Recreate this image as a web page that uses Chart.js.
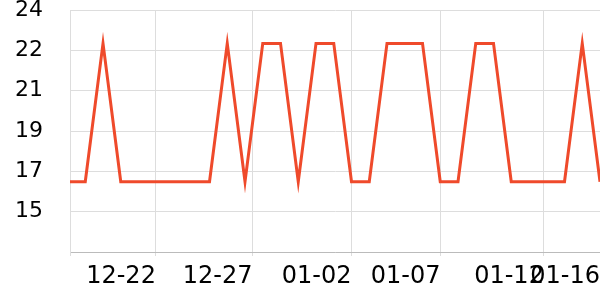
<!DOCTYPE html>
<html>
<head>
<meta charset="utf-8">
<script src="https://cdn.jsdelivr.net/npm/chart.js@4"></script>
<style>
  html, body { margin: 0; padding: 0; background: #fff; }
  #wrap { width: 600px; height: 300px; }
</style>
</head>
<body>
<div id="wrap"><canvas id="chart"></canvas></div>
<script>
// daily values, 12-17 .. 01-16
const days = ['12-17','12-18','12-19','12-20','12-21','12-22','12-23','12-24','12-25','12-26',
              '12-27','12-28','12-29','12-30','12-31','01-01','01-02','01-03','01-04','01-05',
              '01-06','01-07','01-08','01-09','01-10','01-11','01-12','01-13','01-14','01-15','01-16'];
const values = [16.55, 16.55, 22.55, 16.55, 16.55, 16.55, 16.55, 16.55, 16.55, 22.55,
                16.55, 22.55, 22.55, 16.55, 22.55, 22.55, 16.55, 16.55, 22.55, 22.55,
                22.55, 16.55, 16.55, 22.55, 22.55, 16.55, 16.55, 16.55, 16.55, 22.55, 16.55];

// tick positions (in day index) and labels
const xTickPos = [0.14, 4.98, 10.42, 16.0, 21.01, 26.84, 30];
const xTickLabels = ['', '12-22', '12-27', '01-02', '01-07', '01-12', '01-16'];
const yTickValues = [13.5, 15.25, 17, 18.75, 20.5, 22.25, 24];
const yTickLabels = ['', '15', '17', '19', '21', '22', '24'];

const points = values.map((v, i) => ({ x: i, y: v }));

new Chart(document.getElementById('chart'), {
  type: 'line',
  data: {
    datasets: [{
      label: 'value',
      data: points,
      borderColor: '#ef4a2b',
      borderWidth: 3,
      pointRadius: 0,
      tension: 0,
      fill: false
    }]
  },
  options: {
    responsive: true,
    maintainAspectRatio: false,
    animation: false,
    layout: { padding: { top: 10, right: 0, left: 0, bottom: 0 } },
    plugins: {
      legend: { display: false },
      tooltip: { enabled: false }
    },
    scales: {
      x: {
        type: 'linear',
        min: xTickPos[0],
        max: xTickPos[xTickPos.length - 1],
        afterBuildTicks: (scale) => {
          scale.ticks = xTickPos.map(v => ({ value: v }));
        },
        afterFit: (scale) => {
          scale.height = 48;
          scale.paddingLeft = 0;
          scale.paddingRight = 0;
        },
        border: { color: '#bbbbbb', width: 1 },
        grid: {
          color: (ctx) => ctx.index === xTickPos.length - 1 ? 'rgba(0,0,0,0)' : '#dddddd',
          tickLength: 4
        },
        ticks: {
          autoSkip: false,
          maxRotation: 0,
          align: 'end',
          padding: 6,
          color: '#000',
          font: { family: 'DejaVu Sans', size: 24 },
          callback: (v, i) => xTickLabels[i]
        }
      },
      y: {
        min: yTickValues[0],
        max: yTickValues[yTickValues.length - 1],
        afterBuildTicks: (scale) => {
          scale.ticks = yTickValues.map(v => ({ value: v }));
        },
        afterFit: (scale) => {
          scale.width = 70;
          scale.paddingTop = 0;
          scale.paddingBottom = 0;
        },
        border: { color: '#dddddd', width: 1 },
        grid: { color: '#dddddd', drawTicks: false },
        ticks: {
          padding: 27,
          color: '#000',
          font: { family: 'DejaVu Sans', size: 22 },
          callback: (v, i) => yTickLabels[i]
        }
      }
    }
  }
});
</script>
</body>
</html>
